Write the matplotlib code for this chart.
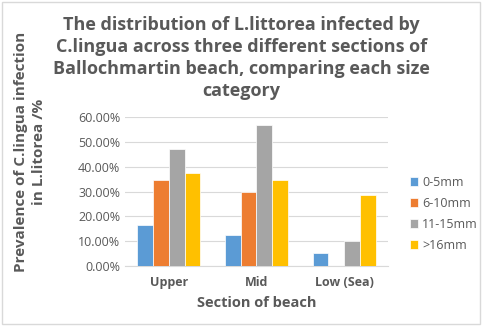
import numpy as np
import matplotlib.pyplot as plt
from matplotlib.patches import Rectangle
from matplotlib.ticker import FuncFormatter

# data
sections = ["Upper", "Mid", "Low (Sea)"]
sizes = ["0-5mm", "6-10mm", "11-15mm", ">16mm"]
size_0_5 = [0.165, 0.124, 0.052]
size_6_10 = [0.347, 0.300, 0.0]
size_11_15 = [0.470, 0.567, 0.101]
size_16 = [0.374, 0.347, 0.285]
colors = ["#5B9BD5", "#ED7D31", "#A5A5A5", "#FFC000"]

plt.rcParams['font.family'] = ['Open Sans', 'DejaVu Sans']
grey = "#595959"

fig = plt.figure(figsize=(4.83, 3.26), dpi=100)
fig.patches.append(Rectangle((0.004, 0.006), 0.99, 0.988, transform=fig.transFigure,
                             fill=False, edgecolor="#D9D9D9", lw=1))
ax = fig.add_axes([0.259, 0.184, 0.544, 0.457])

x = np.arange(len(sections))
w = 0.18
series = [size_0_5, size_6_10, size_11_15, size_16]
for i, (vals, lab) in enumerate(zip(series, sizes)):
    ax.bar(x + (i - 1.5) * w, vals, w, color=colors[i], label=lab,
           edgecolor="white", linewidth=0.5, zorder=3)

ax.set_xlim(-0.5, 2.5)
ax.set_ylim(0, 0.6)
ax.set_yticks(np.arange(0, 0.61, 0.1))
ax.yaxis.set_major_formatter(FuncFormatter(lambda v, p: "{:.2f}%".format(v * 100)))
ax.grid(axis="y", color="#D9D9D9", lw=0.8, zorder=0)
for s in ["top", "right", "left"]:
    ax.spines[s].set_visible(False)
ax.spines["bottom"].set_color("#D9D9D9")
ax.tick_params(axis="both", length=0, colors=grey, labelsize=9)
ax.set_xticks(x)
ax.set_xticklabels(sections, fontweight="bold")
ax.tick_params(axis="x", pad=7)

ax.set_xlabel("Section of beach", fontsize=10.5, fontweight="bold", color=grey, labelpad=5)

# y label sits higher than the axes centre, like the original
fig.text(0.062, 0.535, "Prevalence of C.lingua infection\nin L.litorea /%", rotation=90,
         ha="center", va="center", multialignment="center", fontsize=11,
         fontweight="bold", color=grey, linespacing=1.3)

fig.text(0.5, 0.952,
         "The distribution of L.littorea infected by\nC.lingua across three different sections of\n"
         "Ballochmartin beach, comparing each size\ncategory",
         ha="center", va="top", fontsize=13, fontweight="bold", color=grey, linespacing=1.3)

leg = ax.legend(loc="center left", bbox_to_anchor=(1.04, 0.35), frameon=False,
                fontsize=9, handlelength=0.7, handleheight=0.7, handletextpad=0.3,
                labelspacing=0.65, labelcolor=grey)

fig.savefig("out.png", dpi=100)
